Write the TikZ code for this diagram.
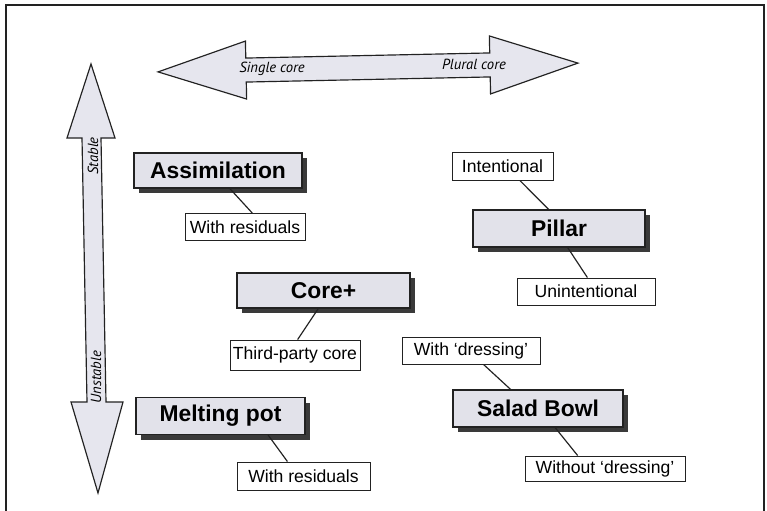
\documentclass[tikz,border=0pt]{standalone}
\usepackage{fontspec}
\setmainfont{Liberation Sans}
\newfontfamily\lblfont{PT Sans}
\usetikzlibrary{shadows,calc}
\definecolor{boxfill}{HTML}{E2E2EA}
\definecolor{arrowfill}{HTML}{E6E6EE}
\definecolor{shadowc}{HTML}{3A3A3A}
\definecolor{linec}{HTML}{222222}
\tikzset{
  sz/.style 2 args={minimum width=#1*0.03cm, minimum height=#2*0.03cm},
  bigbox/.style={draw=linec, line width=1pt, fill=boxfill, inner sep=0pt,
    font=\fontsize{19.5}{22}\selectfont\bfseries,
    drop shadow={shadow xshift=0.14cm, shadow yshift=-0.15cm, fill=shadowc, opacity=1}},
  smallbox/.style={draw=linec, line width=0.8pt, fill=white, inner sep=0pt,
    font=\fontsize{15}{17}\selectfont},
  conn/.style={draw=linec, line width=1pt},
  dbl/.style={draw=linec, line width=1pt, fill=arrowfill, line join=miter},
  arrlabel/.style={font=\lblfont\itshape\fontsize{12.5}{14}\selectfont, inner sep=0pt}
}
\begin{document}
\begin{tikzpicture}[x=0.03cm,y=-0.03cm]
\useasboundingbox (0,0) rectangle (767,510);
\fill[white] (0,0) rectangle (767,510);
\draw[line width=1.3pt, linec] (6,530) -- (6,5) -- (764,5) -- (764,530);

% horizontal double arrow
\begin{scope}[shift={(368,67.5)}, rotate=1.2]
  \draw[dbl] (-210,0) -- (-122,-29) -- (-122,-12) -- (122,-12) -- (122,-29) -- (210,0)
     -- (122,29) -- (122,12) -- (-122,12) -- (-122,29) -- cycle;
\end{scope}
\node[arrlabel] (single) at (272,69) {Single core};
\node[arrlabel] (plural) at (474,64) {Plural core};

% vertical double arrow
\draw[dbl] (91,64) -- (115,138) -- (101,138) -- (106,402) -- (123,402) -- (98,493)
   -- (71,402) -- (87,402) -- (82,138) -- (67,138) -- cycle;
\node[arrlabel, rotate=90] (stable) at (93,156) {Stable};
\node[arrlabel, rotate=90] (unstable) at (96,377) {Unstable};

% main boxes
\node[bigbox, sz={168}{35}] (assim) at (218,170.5) {Assimilation};
\node[bigbox, sz={172}{37}] (pillar) at (559,228.5) {Pillar};
\node[bigbox, sz={173}{35}] (core) at (323.5,290.5) {Core+};
\node[bigbox, sz={170}{37}] (salad) at (538,408.5) {Salad Bowl};
\node[bigbox, sz={169}{37}] (melt) at (220.5,416) {Melting pot};

% small boxes
\node[smallbox, sz={120}{27}] (wres1) at (245,227) {With residuals};
\node[smallbox, sz={101}{28}] (intent) at (502.5,166) {Intentional};
\node[smallbox, sz={138}{27}] (unint) at (586,291.5) {Unintentional};
\node[smallbox, sz={130}{30}] (third) at (295,355) {Third-party core};
\node[smallbox, sz={138}{27}] (wdress) at (471,350.5) {With ‘dressing’};
\node[smallbox, sz={160}{25}] (wodress) at (605,468.5) {Without ‘dressing’};
\node[smallbox, sz={133}{28}] (wres2) at (303.5,476) {With residuals};

% connectors
\draw[conn] ($(assim.south west)!0.57!(assim.south east)$) -- ($(wres1.north west)!0.56!(wres1.north east)$);
\draw[conn] ($(intent.south west)!0.67!(intent.south east)$) -- ($(pillar.north west)!0.44!(pillar.north east)$);
\draw[conn] ($(pillar.south west)!0.55!(pillar.south east)$) -- ($(unint.north west)!0.51!(unint.north east)$);
\draw[conn] ($(core.south west)!0.47!(core.south east)$) -- ($(third.north west)!0.52!(third.north east)$);
\draw[conn] ($(wdress.south west)!0.59!(wdress.south east)$) -- ($(salad.north west)!0.34!(salad.north east)$);
\draw[conn] ($(salad.south west)!0.6!(salad.south east)$) -- ($(wodress.north west)!0.33!(wodress.north east)$);
\draw[conn] ($(melt.south west)!0.78!(melt.south east)$) -- ($(wres2.north west)!0.38!(wres2.north east)$);
\end{tikzpicture}
\end{document}
